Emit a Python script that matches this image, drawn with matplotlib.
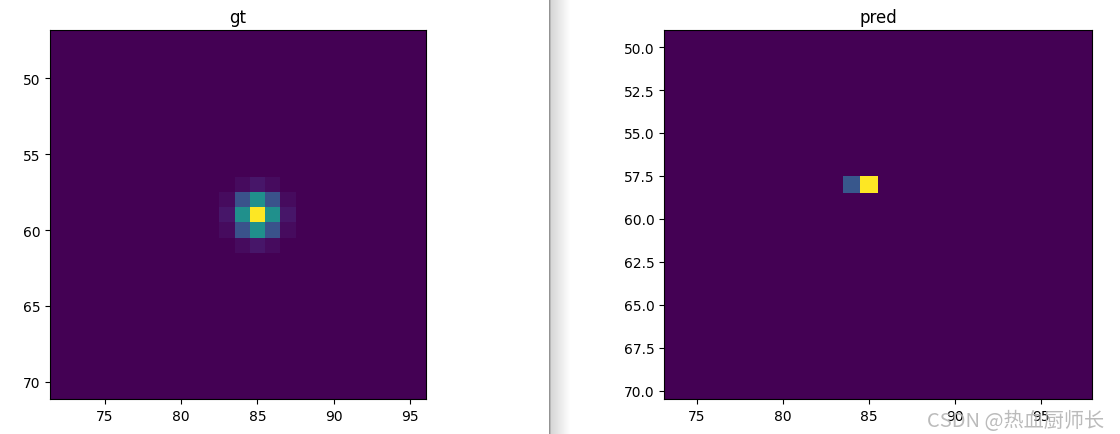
import numpy as np
import matplotlib.pyplot as plt

plt.rcParams['font.family'] = ['DejaVu Sans']

# tamanho do heatmap (só um recorte aparece na tela)
img_h, img_w = 128, 128

gt_center = (85, 59)
gt_kernel = [
    [0.00, 0.03, 0.06, 0.03, 0.00],
    [0.03, 0.25, 0.50, 0.25, 0.03],
    [0.06, 0.50, 1.00, 0.50, 0.06],
    [0.03, 0.25, 0.50, 0.25, 0.03],
    [0.00, 0.03, 0.06, 0.03, 0.00],
]

# pred: só dois pixels acesos
pred_x = [84, 85]
pred_y = [58, 58]
pred_val = [0.27, 1.00]

# limites de zoom de cada janela
gt_xlim, gt_ylim = (71.4, 96.05), (71.12, 46.84)
pred_xlim, pred_ylim = (73.08, 97.97), (70.47, 49.01)

gt = np.zeros((img_h, img_w))
k = np.array(gt_kernel)
r = k.shape[0] // 2
cx, cy = gt_center
gt[cy - r:cy + r + 1, cx - r:cx + r + 1] = k

pred = np.zeros((img_h, img_w))
for x, y, v in zip(pred_x, pred_y, pred_val):
    pred[y, x] = v

W, H = 1120, 435
fig = plt.figure(figsize=(W / 100, H / 100), dpi=100)

ax1 = fig.add_axes([50 / W, 35 / H, 376 / W, 369 / H])
ax1.imshow(gt, cmap='viridis', aspect='auto')
ax1.set_xlim(*gt_xlim)
ax1.set_ylim(*gt_ylim)
ax1.set_xticks(np.arange(75, 96, 5))
ax1.set_yticks(np.arange(50, 71, 5))
ax1.set_title("gt")

ax2 = fig.add_axes([664 / W, 35 / H, 428 / W, 369 / H])
ax2.imshow(pred, cmap='viridis', aspect='auto')
ax2.set_xlim(*pred_xlim)
ax2.set_ylim(*pred_ylim)
ax2.set_xticks(np.arange(75, 96, 5))
ax2.set_yticks(np.arange(50, 70.1, 2.5))
ax2.set_title("pred")

# sombra entre as duas capturas de tela
sh = fig.add_axes([549 / W, 0, 22 / W, 1])
grad = np.concatenate([[0.58, 0.72], np.linspace(0.84, 1.0, 20)])[None, :]
sh.imshow(grad, cmap='gray', vmin=0, vmax=1, aspect='auto')
sh.axis('off')

# marca d'água
fig.text(1104 / W, 14 / H, "CSDN @热血厨师长", ha='right', va='center',
         fontsize=14.5, color='#b4b4b4', alpha=0.9,
         family=['Noto Sans CJK SC', 'DejaVu Sans'])

fig.savefig("out.png", dpi=100)
